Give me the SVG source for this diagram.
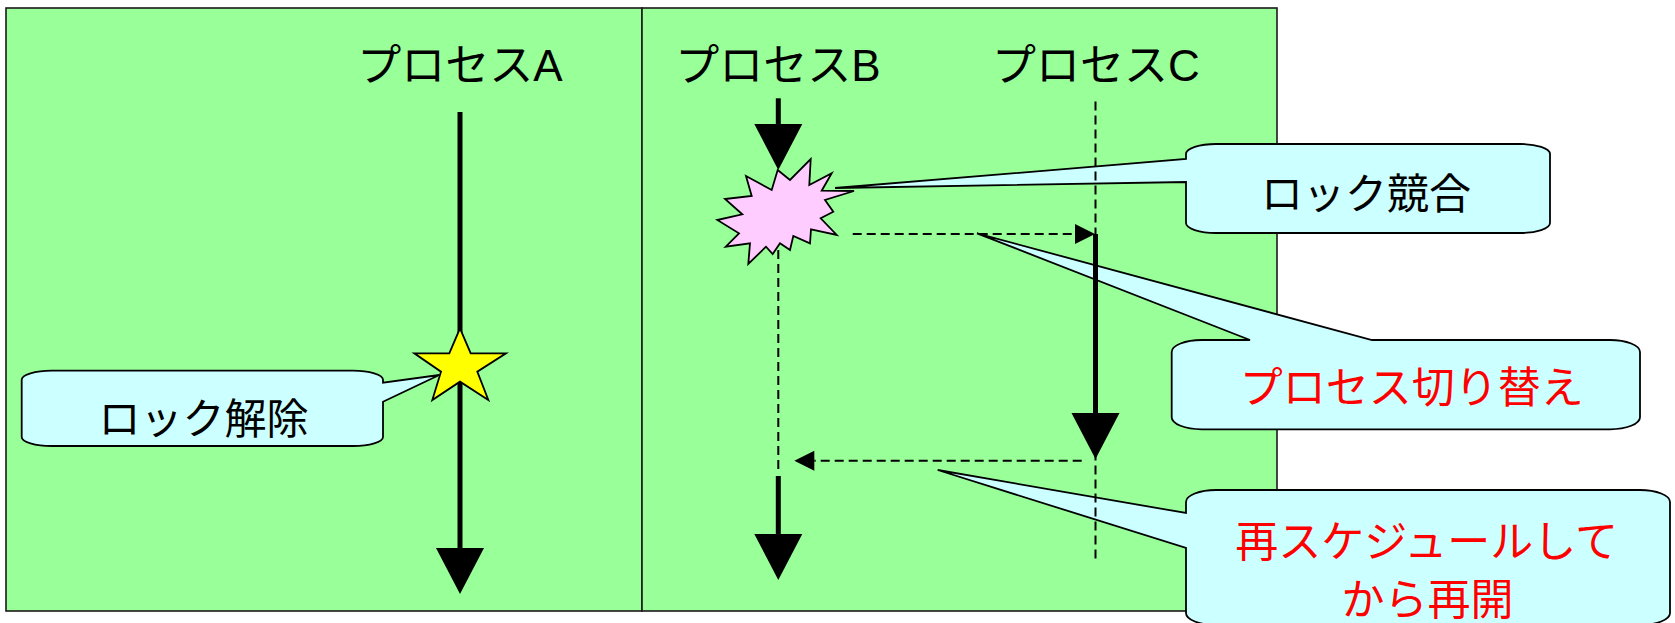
<svg xmlns="http://www.w3.org/2000/svg" width="1675" height="623" viewBox="0 0 1675 623">
<defs>
<style>
.panel{fill:#99FF99;stroke:#1a1a1a;stroke-width:1.6}
.callout{fill:#CCFFFF;stroke:#000;stroke-width:1.8;stroke-linejoin:miter}
.thick{stroke:#000;stroke-width:5;fill:none}
.dash{stroke:#000;stroke-width:2;fill:none;stroke-dasharray:9 5}
.title{font-family:"Liberation Sans","Noto Sans CJK JP",sans-serif;font-size:44px;fill:#000;text-anchor:middle}
.lbl{font-family:"Liberation Sans","Noto Sans CJK JP",sans-serif;font-size:42px;fill:#000;text-anchor:middle}
.red{font-family:"Liberation Sans","Noto Sans CJK JP",sans-serif;font-size:43px;fill:#FF0000;text-anchor:middle}
</style>
<marker id="bigArrow" markerUnits="userSpaceOnUse" markerWidth="46" markerHeight="48" refX="0" refY="24" orient="auto" overflow="visible">
<path d="M0,0 L46,24 L0,48 Z" fill="#000"/>
</marker>
<marker id="smallArrow" markerUnits="userSpaceOnUse" markerWidth="20" markerHeight="20" refX="0" refY="10" orient="auto" overflow="visible">
<path d="M0,0 L20,10 L0,20 Z" fill="#000"/>
</marker>
</defs>

<g id="panels">
<rect class="panel" x="6" y="8" width="636" height="603"/>
<rect class="panel" x="642" y="8" width="635" height="603"/>
</g>

<g id="titles">
<text class="title" x="460" y="81">プロセスA</text>
<text class="title" x="778" y="81">プロセスB</text>
<text class="title" x="1096" y="81">プロセスC</text>
</g>

<g id="lock-conflict-burst">
<polygon points="777.7,170 790,180 810.7,159 809.3,185 831.7,173.3 821.7,190.7 854,191 825,200 833.3,211.7 820.7,218.3 836.7,235 811,229.3 810,243.3 793.3,236 790,250 780,243.3 772.7,254 766,246.7 748.3,264 750,243.3 725.7,246.7 739,233.3 717.3,220 742.3,214.3 725,199 751.7,196 746,176 771.7,190" fill="#FFCCFF" stroke="#000" stroke-width="1.8" stroke-linejoin="miter"/>
</g>

<g id="callout-unlock">
<path class="callout" d="M51.7,370.7 H353 A30,9 0 0 1 383,379.7 V382.7 L439.3,375 L383,401.7 V437 A30,9 0 0 1 353,446 H51.7 A30,9 0 0 1 21.7,437 V379.7 A30,9 0 0 1 51.7,370.7 Z"/>
<text class="lbl" x="203.4" y="434">ロック解除</text>
</g>

<g id="callout-conflict">
<path class="callout" d="M1216,144 H1520 A30,10 0 0 1 1550,154 V223 A30,10 0 0 1 1520,233 H1216 A30,10 0 0 1 1186,223 V182 L835,188 L1186,159 V154 A30,10 0 0 1 1216,144 Z"/>
<text class="lbl" x="1366" y="209">ロック競合</text>
</g>

<g id="callout-switch">
<path class="callout" d="M1201.7,340 H1250 L977,233.3 L1372,340 H1610 A30,12 0 0 1 1640,352 V417.3 A30,12 0 0 1 1610,429.3 H1201.7 A30,12 0 0 1 1171.7,417.3 V352 A30,12 0 0 1 1201.7,340 Z"/>
<text class="red" x="1411.7" y="403">プロセス切り替え</text>
</g>

<g id="callout-resume">
<path class="callout" d="M1216,490 H1640 A30,12 0 0 1 1670,502 V613 A30,12 0 0 1 1640,625 H1216 A30,12 0 0 1 1186,613 V548 L937.7,470 L1186,513 V502 A30,12 0 0 1 1216,490 Z"/>
<text class="red" x="1426.7" y="557">再スケジュールして</text>
<text class="red" x="1427.5" y="615">から再開</text>
</g>

<g id="connectors">
<line class="dash" x1="1095.5" y1="101.5" x2="1095.5" y2="563"/>
<line class="dash" x1="778.3" y1="250" x2="778.3" y2="474"/>
<line class="thick" x1="460" y1="112" x2="460" y2="548" marker-end="url(#bigArrow)"/>
<line class="thick" x1="778.3" y1="98.3" x2="778.3" y2="124" marker-end="url(#bigArrow)"/>
<line class="thick" x1="1095.5" y1="234" x2="1095.5" y2="413" marker-end="url(#bigArrow)"/>
<line class="thick" x1="778.3" y1="476" x2="778.3" y2="534" marker-end="url(#bigArrow)"/>
<line class="dash" x1="852.7" y1="234" x2="1075" y2="234" marker-end="url(#smallArrow)"/>
<line class="dash" x1="1081.7" y1="460.7" x2="814.3" y2="460.7" marker-end="url(#smallArrow)"/>
</g>

<g id="unlock-star">
<polygon points="460,328.3 470.7,353.3 506,353.3 477.3,371.7 488.3,400 460,381.7 432.3,400 441,371.7 414.3,353.3 449.3,353.3" fill="#FFFF00" stroke="#000" stroke-width="1.8"/>
</g>
</svg>
